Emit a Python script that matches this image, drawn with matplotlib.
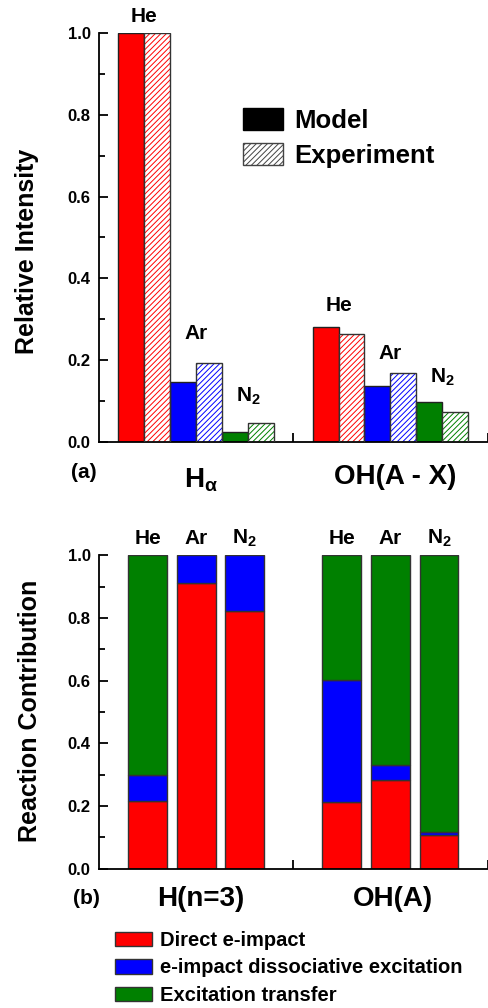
import matplotlib
matplotlib.use("Agg")
import matplotlib.pyplot as plt
from matplotlib.patches import Patch
from matplotlib.ticker import MultipleLocator, FormatStrFormatter

plt.rcParams['font.family'] = ['Liberation Sans', 'DejaVu Sans']
plt.rcParams['font.weight'] = 'bold'
plt.rcParams['mathtext.fontset'] = 'custom'
plt.rcParams['mathtext.rm'] = 'Liberation Sans:bold'
plt.rcParams['mathtext.bf'] = 'Liberation Sans:bold'
plt.rcParams['mathtext.it'] = 'Liberation Sans:bold'
plt.rcParams['mathtext.default'] = 'bf'
plt.rcParams['hatch.linewidth'] = 0.7

# ---------------- data ----------------
gases = ['He', 'Ar', 'N$_2$']
gas_colors = ['#ff0000', '#0000ff', '#008000']

# panel (a): relative intensity
groups_a = ['H$_\\alpha$', 'OH(A - X)']
model_Ha = [1.0, 0.147, 0.023]
exp_Ha = [1.0, 0.192, 0.047]
model_OH = [0.282, 0.136, 0.098]
exp_OH = [0.264, 0.167, 0.072]
label_y_a = [[1.04, 0.265, 0.11], [0.333, 0.217, 0.158]]

# panel (b): reaction contribution (fractions)
groups_b = ['H(n=3)', 'OH(A)']
direct_H = [0.217, 0.912, 0.823]
dissoc_H = [0.081, 0.088, 0.177]
transfer_H = [0.702, 0.0, 0.0]
direct_OH = [0.214, 0.284, 0.106]
dissoc_OH = [0.387, 0.048, 0.010]
transfer_OH = [0.399, 0.668, 0.884]
reactions = ['Direct e-impact', 'e-impact dissociative excitation', 'Excitation transfer']
reaction_colors = ['#ff0000', '#0000ff', '#008000']

# ---------------- figure ----------------
W, H = 488, 1008
fig = plt.figure(figsize=(W / 100, H / 100), dpi=100)

def fx(px):
    return px / W

def fy(py):
    return 1 - py / H

ax1 = fig.add_axes([fx(99), fy(441.7), fx(487.5) - fx(99), fy(33.3) - fy(441.7)])
ax2 = fig.add_axes([fx(99), fy(868.7), fx(487.5) - fx(99), fy(555.3) - fy(868.7)])

for ax in (ax1, ax2):
    ax.set_xlim(0.5, 2.5)
    ax.set_ylim(0, 1.0)
    for s in ('top', 'right'):
        ax.spines[s].set_visible(False)
    for s in ('left', 'bottom'):
        ax.spines[s].set_linewidth(1.3)
    ax.yaxis.set_major_locator(MultipleLocator(0.2))
    ax.yaxis.set_minor_locator(MultipleLocator(0.1))
    ax.yaxis.set_major_formatter(FormatStrFormatter('%.1f'))
    ax.set_xticks([1.5, 2.5])
    ax.set_xticklabels([])
    ax.tick_params(axis='both', which='major', direction='in', length=6.5, width=1.3,
                   labelsize=12, pad=6)
    ax.tick_params(axis='y', which='minor', direction='in', length=4, width=1.3)
    ax.tick_params(axis='x', which='minor', bottom=False)
    for lab in ax.get_yticklabels():
        lab.set_fontweight('bold')

# panel (a)
bw = 0.1333
model_sets = [model_Ha, model_OH]
exp_sets = [exp_Ha, exp_OH]
for g in range(2):
    center = g + 1
    for i in range(3):
        xm = center + (2 * i - 2.5) * bw
        xe = center + (2 * i - 1.5) * bw
        ax1.bar(xm, model_sets[g][i], width=bw, color=gas_colors[i], edgecolor='#222222',
                linewidth=1.0, zorder=2)
        ax1.bar(xe, exp_sets[g][i], width=bw, color='white', edgecolor=gas_colors[i],
                hatch='//////', linewidth=0, zorder=2)
        ax1.bar(xe, exp_sets[g][i], width=bw, fill=False, edgecolor='#333333',
                linewidth=1.0, zorder=3)
        ax1.text(center + (2 * i - 2) * bw, label_y_a[g][i], gases[i], ha='center',
                 va='center', fontsize=15, fontweight='bold')

leg1 = ax1.legend(handles=[Patch(facecolor='black', edgecolor='black'),
                           Patch(facecolor='white', edgecolor='#444444', hatch='//////')],
                  labels=['Model', 'Experiment'], loc='upper left',
                  bbox_to_anchor=(fx(243), fy(108)), bbox_transform=fig.transFigure,
                  frameon=False, fontsize=18.5, handlelength=1.55, handleheight=0.95,
                  handletextpad=0.45, labelspacing=0.4, borderpad=0, borderaxespad=0)
for t in leg1.get_texts():
    t.set_fontweight('bold')

ax1.set_ylabel('Relative Intensity', fontsize=18, fontweight='bold')

# panel (b)
bw2 = 0.2
dir_sets = [direct_H, direct_OH]
dis_sets = [dissoc_H, dissoc_OH]
tr_sets = [transfer_H, transfer_OH]
for g in range(2):
    center = g + 1
    for i in range(3):
        x = center + (i - 1) * 0.25
        d = dir_sets[g][i]
        e = dis_sets[g][i]
        t = tr_sets[g][i]
        ax2.bar(x, d, width=bw2, color=reaction_colors[0], edgecolor='#333333', linewidth=1.0, zorder=2)
        ax2.bar(x, e, bottom=d, width=bw2, color=reaction_colors[1], edgecolor='#333333', linewidth=1.0, zorder=2)
        if t > 0:
            ax2.bar(x, t, bottom=d + e, width=bw2, color=reaction_colors[2], edgecolor='#333333', linewidth=1.0, zorder=2)
        ax2.text(x, 1.055, gases[i], ha='center', va='center', fontsize=15,
                 fontweight='bold', clip_on=False)

ax2.set_ylabel('Reaction Contribution', fontsize=18, fontweight='bold')

# y label positions
ax1.yaxis.set_label_coords(-(99 - 27) / (487.5 - 99), (441.7 - 251.7) / (441.7 - 33.3))
ax2.yaxis.set_label_coords(-(99 - 30) / (487.5 - 99), (868.7 - 710.8) / (868.7 - 555.3))
ax1.yaxis.label.set_va('center')
ax2.yaxis.label.set_va('center')

# group labels
fig.text(fx(84), fy(472), '(a)', ha='center', va='center', fontsize=15, fontweight='bold')
fig.text(fx(201), fy(480), groups_a[0], ha='center', va='center', fontsize=20, fontweight='bold')
fig.text(fx(395), fy(477), groups_a[1], ha='center', va='center', fontsize=20, fontweight='bold')
fig.text(fx(86), fy(899), '(b)', ha='center', va='center', fontsize=15, fontweight='bold')
fig.text(fx(200.5), fy(899), groups_b[0], ha='center', va='center', fontsize=20, fontweight='bold')
fig.text(fx(393), fy(899), groups_b[1], ha='center', va='center', fontsize=20, fontweight='bold')

leg2 = fig.legend(handles=[Patch(facecolor=c, edgecolor='#333333') for c in reaction_colors],
                  labels=reactions, loc='upper left', bbox_to_anchor=(fx(115), fy(931)),
                  frameon=False, fontsize=14.5, handlelength=1.85, handleheight=0.75,
                  handletextpad=0.4, labelspacing=0.42, borderpad=0, borderaxespad=0)
for t in leg2.get_texts():
    t.set_fontweight('bold')

fig.savefig('out.png', dpi=100)
